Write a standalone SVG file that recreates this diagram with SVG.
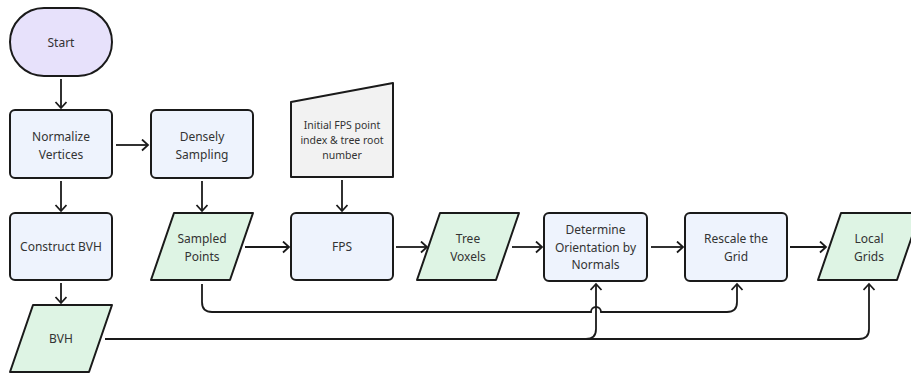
<svg xmlns="http://www.w3.org/2000/svg" width="911" height="373" viewBox="0 0 911 373">
  <style>
    .shape { stroke: #1a1a1a; stroke-width: 2; stroke-linejoin: round; }
    .start { fill: #E7E1FB; }
    .process { fill: #EEF3FD; }
    .data { fill: #DEF4E4; }
    .manual { fill: #F2F2F2; }
    .label { font-family: "Noto Sans", "Open Sans", sans-serif; font-size: 12px; fill: #333333; text-anchor: middle; }
    .small { font-size: 10.5px; }
    .edge { fill: none; stroke: #1a1a1a; stroke-width: 1.8; marker-end: url(#arrow); }
  </style>
  <defs>
    <marker id="arrow" markerUnits="userSpaceOnUse" markerWidth="14" markerHeight="14" refX="7" refY="6" orient="auto">
      <path d="M1,0.5 L7,6 L1,11.5" fill="none" stroke="#1a1a1a" stroke-width="1.8" stroke-linejoin="miter"/>
    </marker>
  </defs>

  <!-- nodes -->
  <g id="start">
    <rect class="shape start" x="10" y="8" width="102" height="68" rx="34" ry="34"/>
    <text class="label" x="61" y="47">Start</text>
  </g>
  <g id="normalize-vertices">
    <rect class="shape process" x="10" y="110" width="102" height="68" rx="5"/>
    <text class="label" x="61" y="141">Normalize</text>
    <text class="label" x="61" y="158.5">Vertices</text>
  </g>
  <g id="densely-sampling">
    <rect class="shape process" x="151" y="110" width="102" height="68" rx="5"/>
    <text class="label" x="202" y="141">Densely</text>
    <text class="label" x="202" y="158.5">Sampling</text>
  </g>
  <g id="construct-bvh">
    <rect class="shape process" x="10" y="213" width="102" height="67" rx="5"/>
    <text class="label" x="61" y="251">Construct BVH</text>
  </g>
  <g id="bvh">
    <path class="shape data" d="M33,305 L112,305 L89,372 L10,372 Z"/>
    <text class="label" x="61" y="343">BVH</text>
  </g>
  <g id="sampled-points">
    <path class="shape data" d="M174,213 L253,213 L230,280 L151,280 Z"/>
    <text class="label" x="202" y="243">Sampled</text>
    <text class="label" x="202" y="260.5">Points</text>
  </g>
  <g id="initial-fps-input">
    <path class="shape manual" d="M291,102 L393,83 L393,177 L291,177 Z"/>
    <text class="label small" x="342" y="129">Initial FPS point</text>
    <text class="label small" x="342" y="144">index &amp; tree root</text>
    <text class="label small" x="342" y="159">number</text>
  </g>
  <g id="fps">
    <rect class="shape process" x="291" y="213" width="102" height="67" rx="5"/>
    <text class="label" x="342" y="251">FPS</text>
  </g>
  <g id="tree-voxels">
    <path class="shape data" d="M440,213 L519,213 L496,280 L417,280 Z"/>
    <text class="label" x="468" y="243">Tree</text>
    <text class="label" x="468" y="260.5">Voxels</text>
  </g>
  <g id="determine-orientation">
    <rect class="shape process" x="544" y="213" width="103" height="68" rx="5"/>
    <text class="label" x="595.5" y="234">Determine</text>
    <text class="label" x="595.5" y="251.5">Orientation by</text>
    <text class="label" x="595.5" y="269">Normals</text>
  </g>
  <g id="rescale-grid">
    <rect class="shape process" x="685" y="213" width="102" height="68" rx="5"/>
    <text class="label" x="736" y="243">Rescale the</text>
    <text class="label" x="736" y="260.5">Grid</text>
  </g>
  <g id="local-grids">
    <path class="shape data" d="M841,213 L920,213 L897,280 L818,280 Z"/>
    <text class="label" x="869" y="243">Local</text>
    <text class="label" x="869" y="260.5">Grids</text>
  </g>

  <!-- connectors -->
  <g id="connectors">
    <path class="edge" d="M61,79 V108"/>
    <path class="edge" d="M116,145 H148"/>
    <path class="edge" d="M61,181 V211"/>
    <path class="edge" d="M202,181 V211"/>
    <path class="edge" d="M61,283 V303"/>
    <path class="edge" d="M342,180 V211"/>
    <path class="edge" d="M245,247 H289"/>
    <path class="edge" d="M396,247 H427"/>
    <path class="edge" d="M512,247 H542"/>
    <path class="edge" d="M651,247 H683"/>
    <path class="edge" d="M790,247 H826"/>
    <!-- sampled points to rescale, hopping over the BVH branch -->
    <path class="edge" d="M202,284 V302 Q202,312 212,312 H591 A5,5 0 0 1 601,312 H727 Q737,312 737,302 V284"/>
    <!-- BVH to orientation step -->
    <path class="edge" d="M105,339 H586 Q596,339 596,329 V284"/>
    <!-- BVH to local grids -->
    <path class="edge" d="M105,339 H859 Q869,339 869,329 V284"/>
  </g>
</svg>
